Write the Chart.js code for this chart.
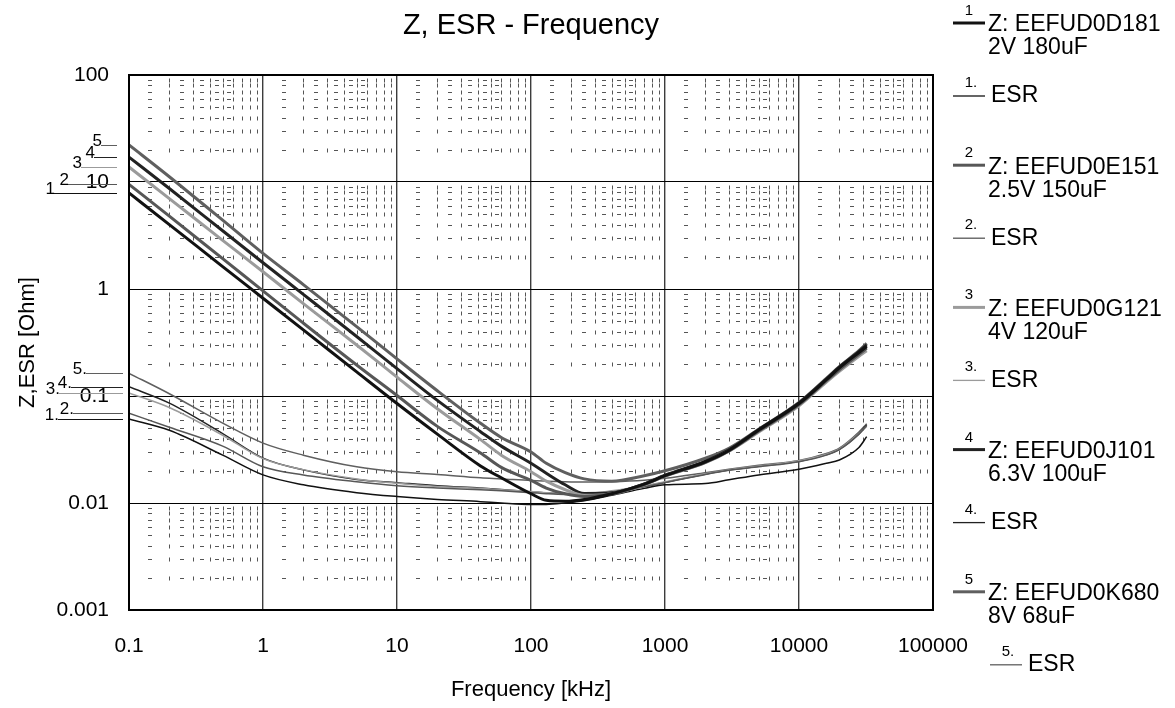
<!DOCTYPE html>
<html>
<head>
<meta charset="utf-8">
<title>Z, ESR - Frequency</title>
<script src="https://cdn.jsdelivr.net/npm/chart.js@4.4.1/dist/chart.umd.min.js"></script>
<style>
    html, body { margin: 0; padding: 0; background: #fff; }
    canvas { display: block; }
</style>
</head>
<body>
<canvas id="chartZ" width="1175" height="708"></canvas>
<script>
// frecuencias [kHz]
const freqKHz = [0.1, 0.2, 0.5, 1, 2, 5, 10, 20, 42, 60, 100, 130, 180, 250, 400, 700, 1000, 2000, 3000, 5000, 10000, 16000, 20000, 28000, 32000];

// impedancia Z [Ohm]
const z1 = [7.9, 4.0, 1.62, 0.82, 0.415, 0.168, 0.085, 0.044, 0.0222, 0.0172, 0.0122, 0.0106, 0.0104, 0.0108, 0.0122, 0.0150, 0.0180, 0.0243, 0.031, 0.048, 0.085, 0.142, 0.183, 0.255, 0.29];
const z2 = [9.5, 4.8, 1.92, 0.96, 0.48, 0.195, 0.101, 0.052, 0.0293, 0.0215, 0.0163, 0.0138, 0.0122, 0.0115, 0.0122, 0.0149, 0.0179, 0.0240, 0.0307, 0.047, 0.083, 0.139, 0.176, 0.245, 0.28];
const z3 = [13.8, 7.0, 2.85, 1.45, 0.73, 0.30, 0.150, 0.076, 0.0391, 0.028, 0.0196, 0.0160, 0.0133, 0.0118, 0.0122, 0.0148, 0.0178, 0.0238, 0.0305, 0.046, 0.081, 0.135, 0.170, 0.235, 0.265];
const z4 = [17.1, 8.7, 3.5, 1.76, 0.89, 0.36, 0.180, 0.091, 0.0464, 0.034, 0.0235, 0.0190, 0.0148, 0.0123, 0.0124, 0.0151, 0.0182, 0.0245, 0.0314, 0.0485, 0.086, 0.144, 0.186, 0.26, 0.30];
const z5 = [22.2, 11.2, 4.4, 2.15, 1.1, 0.445, 0.222, 0.112, 0.0556, 0.041, 0.030, 0.0235, 0.0192, 0.0168, 0.0160, 0.0180, 0.0200, 0.0262, 0.0325, 0.049, 0.087, 0.146, 0.188, 0.265, 0.31];

// ESR [Ohm]
const esr1 = [0.061, 0.0478, 0.028, 0.0183, 0.0148, 0.0125, 0.0115, 0.0108, 0.0103, 0.0100, 0.0097, 0.0097, 0.0100, 0.0105, 0.0118, 0.0137, 0.0148, 0.0152, 0.0165, 0.0183, 0.0207, 0.0235, 0.0252, 0.033, 0.0417];
const esr2 = [0.069, 0.051, 0.034, 0.0218, 0.0183, 0.0158, 0.0145, 0.0138, 0.0133, 0.0130, 0.0125, 0.0122, 0.0120, 0.0120, 0.0127, 0.0142, 0.0155, 0.0185, 0.0202, 0.0218, 0.0243, 0.028, 0.0315, 0.044, 0.053];
const esr3 = [0.107, 0.078, 0.043, 0.026, 0.0205, 0.0168, 0.0153, 0.0143, 0.0137, 0.0133, 0.0128, 0.0125, 0.0123, 0.0123, 0.0130, 0.0145, 0.0158, 0.0188, 0.0205, 0.0222, 0.0248, 0.0285, 0.032, 0.0445, 0.052];
const esr4 = [0.122, 0.0858, 0.0446, 0.0263, 0.0204, 0.0166, 0.0155, 0.0145, 0.0138, 0.0134, 0.0127, 0.0124, 0.0122, 0.0122, 0.0128, 0.0143, 0.0156, 0.0186, 0.0203, 0.0220, 0.0245, 0.0283, 0.0318, 0.0442, 0.0536];
const esr5 = [0.163, 0.105, 0.0558, 0.0363, 0.028, 0.0218, 0.0196, 0.0185, 0.0172, 0.0168, 0.0162, 0.0160, 0.0158, 0.0157, 0.0158, 0.0163, 0.0170, 0.0192, 0.0207, 0.0225, 0.025, 0.029, 0.0325, 0.046, 0.055];

const partNames = ['Z: EEFUD0D181', 'Z: EEFUD0E151', 'Z: EEFUD0G121', 'Z: EEFUD0J101', 'Z: EEFUD0K680'];
const partRatings = ['2V 180uF', '2.5V 150uF', '4V 120uF', '6.3V 100uF', '8V 68uF'];
const xTickLabels = ['0.1', '1', '10', '100', '1000', '10000', '100000'];
const yTickLabels = ['0.001', '0.01', '0.1', '1', '10', '100'];

const zSeries = [z1, z2, z3, z4, z5];
const esrSeries = [esr1, esr2, esr3, esr4, esr5];

// estilos
const colors = ['#111111', '#575757', '#9b9b9b', '#222222', '#5f5f5f'];
const FONT = "'Liberation Sans', Arial, Helvetica, sans-serif";
const zMarkLen = [63, 49, 36, 23, 16];
const esrMarkLen = [65, 50, 64, 52, 37];

const isDecade = v => Math.abs(Math.log10(v) - Math.round(Math.log10(v))) < 1e-9;

function logTicks(scale) {
    const lo = Math.round(Math.log10(scale.min)), hi = Math.round(Math.log10(scale.max));
    const t = [];
    for (let e = lo; e <= hi; e++) {
        for (let m = 1; m <= 9; m++) {
            if (e === hi && m > 1) break;
            t.push({ value: m === 1 ? Math.pow(10, e) : m * Math.pow(10, e) });
        }
    }
    scale.ticks = t;
}

const toPts = arr => freqKHz.map((f, i) => ({ x: f, y: arr[i] }));

const datasets = [];
zSeries.forEach((s, i) => datasets.push({
    label: partNames[i], data: toPts(s), borderColor: colors[i], borderWidth: 3,
    pointRadius: 0, cubicInterpolationMode: 'monotone', fill: false
}));
esrSeries.forEach((s, i) => datasets.push({
    label: 'ESR', data: toPts(s), borderColor: colors[i], borderWidth: 1.5,
    pointRadius: 0, cubicInterpolationMode: 'monotone', fill: false
}));

// rejilla menor punteada
const minorGrid = {
    id: 'minorGrid',
    beforeDatasetsDraw(chart) {
        const { ctx, chartArea: a, scales: { x, y } } = chart;
        const xs = x.ticks.map(t => ({ p: Math.round(x.getPixelForValue(t.value)) + 0.5, minor: !isDecade(t.value) }));
        ctx.save();
        ctx.strokeStyle = '#555';
        ctx.lineWidth = 1;
        ctx.beginPath();
        y.ticks.forEach(ty => {
            if (isDecade(ty.value)) return;
            const py = Math.round(y.getPixelForValue(ty.value)) + 0.5;
            if (py <= a.top + 3 || py >= a.bottom - 3) return;
            xs.forEach((c, i) => {
                if (c.minor) { ctx.moveTo(c.p, py - 2); ctx.lineTo(c.p, py + 2); }
                const n = xs[i + 1];
                if (n) {
                    const m = Math.round((c.p + n.p) / 2);
                    if (n.p - c.p > 9) { ctx.moveTo(m - 2, py); ctx.lineTo(m + 2, py); }
                }
            });
        });
        ctx.stroke();
        ctx.restore();
    },
    afterDatasetsDraw(chart) {
        const { ctx, chartArea: a } = chart;
        ctx.save();
        ctx.strokeStyle = '#000';
        ctx.lineWidth = 2;
        ctx.strokeRect(a.left, a.top, a.right - a.left, a.bottom - a.top);
        ctx.restore();
    }
};

// titulos, marcas a la izquierda y leyenda
const decor = {
    id: 'decor',
    afterDraw(chart) {
        const { ctx, chartArea: a, scales: { y } } = chart;
        const cx = (a.left + a.right) / 2;
        ctx.save();
        ctx.fillStyle = '#000';
        ctx.textAlign = 'center';
        ctx.textBaseline = 'middle';
        ctx.font = '29px ' + FONT;
        ctx.fillText('Z, ESR - Frequency', cx, 26);
        ctx.font = '22px ' + FONT;
        ctx.fillText('Frequency [kHz]', cx, 690);
        ctx.save();
        ctx.translate(28, (a.top + a.bottom) / 2);
        ctx.rotate(-Math.PI / 2);
        ctx.fillText('Z,ESR [Ohm]', 0, 0);
        ctx.restore();

        // marcas numeradas junto al eje Y
        ctx.lineWidth = 1;
        ctx.font = '17px ' + FONT;
        ctx.textAlign = 'right';
        ctx.textBaseline = 'alphabetic';
        zSeries.forEach((s, i) => {
            const py = Math.round(y.getPixelForValue(s[0])) + 0.5;
            const x1 = a.left - 12, x0 = x1 - zMarkLen[i];
            ctx.strokeStyle = colors[i];
            ctx.beginPath(); ctx.moveTo(x0, py); ctx.lineTo(x1, py); ctx.stroke();
            ctx.fillText(String(i + 1), x0 + 1, py);
        });
        esrSeries.forEach((s, i) => {
            const py = Math.round(y.getPixelForValue(s[0])) + 0.5;
            const x1 = a.left - 6, x0 = x1 - esrMarkLen[i];
            ctx.strokeStyle = colors[i];
            ctx.beginPath(); ctx.moveTo(x0, py); ctx.lineTo(x1, py); ctx.stroke();
            ctx.fillText((i + 1) + '.', x0 + 1, py);
        });

        // leyenda
        const lx = a.right + 20;
        for (let i = 0; i < 5; i++) {
            const zy = 23 + i * 142.2;
            const ey = zy + 73;
            ctx.strokeStyle = colors[i];
            ctx.lineWidth = 3;
            ctx.beginPath(); ctx.moveTo(lx, zy); ctx.lineTo(lx + 32, zy); ctx.stroke();
            ctx.textAlign = 'center';
            ctx.textBaseline = 'alphabetic';
            ctx.font = '15px ' + FONT;
            ctx.fillText(String(i + 1), lx + 16, zy - 8);
            ctx.textAlign = 'left';
            ctx.textBaseline = 'middle';
            ctx.font = '23px ' + FONT;
            ctx.fillText(partNames[i], lx + 35, zy + 2);
            ctx.fillText(partRatings[i], lx + 35, zy + 25);

            const ex = i === 4 ? lx + 37 : lx;
            ctx.lineWidth = 1.3;
            ctx.beginPath(); ctx.moveTo(ex, ey); ctx.lineTo(ex + 32, ey); ctx.stroke();
            ctx.textAlign = 'center';
            ctx.textBaseline = 'alphabetic';
            ctx.font = '15px ' + FONT;
            ctx.fillText((i + 1) + '.', ex + 18, ey - 9);
            ctx.textAlign = 'left';
            ctx.textBaseline = 'middle';
            ctx.font = '23px ' + FONT;
            ctx.fillText('ESR', ex + 38, ey);
        }
        ctx.restore();
    }
};

new Chart(document.getElementById('chartZ'), {
    type: 'line',
    data: { datasets },
    plugins: [minorGrid, decor],
    options: {
        responsive: false,
        animation: false,
        devicePixelRatio: 1,
        layout: { padding: { left: 0, right: 242, top: 75, bottom: 0 } },
        plugins: { legend: { display: false }, tooltip: { enabled: false }, title: { display: false } },
        scales: {
            x: {
                type: 'logarithmic', min: 0.1, max: 100000,
                afterBuildTicks: logTicks,
                afterFit: s => { s.height = 98; },
                border: { display: false },
                grid: {
                    drawTicks: false,
                    color: c => c.tick && isDecade(c.tick.value) ? '#3c3c3c' : 'rgba(0,0,0,0)',
                    lineWidth: 1.4
                },
                ticks: {
                    autoSkip: false, maxRotation: 0, padding: 24, color: '#000',
                    font: { family: FONT, size: 21 },
                    callback: v => isDecade(v) ? xTickLabels[Math.round(Math.log10(v)) + 1] : ''
                }
            },
            y: {
                type: 'logarithmic', min: 0.001, max: 100,
                afterBuildTicks: logTicks,
                afterFit: s => { s.width = 129; },
                border: { display: false },
                grid: {
                    drawTicks: false,
                    color: c => c.tick && isDecade(c.tick.value) ? '#000' : 'rgba(0,0,0,0)',
                    lineWidth: 1
                },
                ticks: {
                    autoSkip: false, padding: 20, color: '#000',
                    font: { family: FONT, size: 21 },
                    callback: v => isDecade(v) ? yTickLabels[Math.round(Math.log10(v)) + 3] : ''
                }
            }
        }
    }
});
</script>
</body>
</html>
